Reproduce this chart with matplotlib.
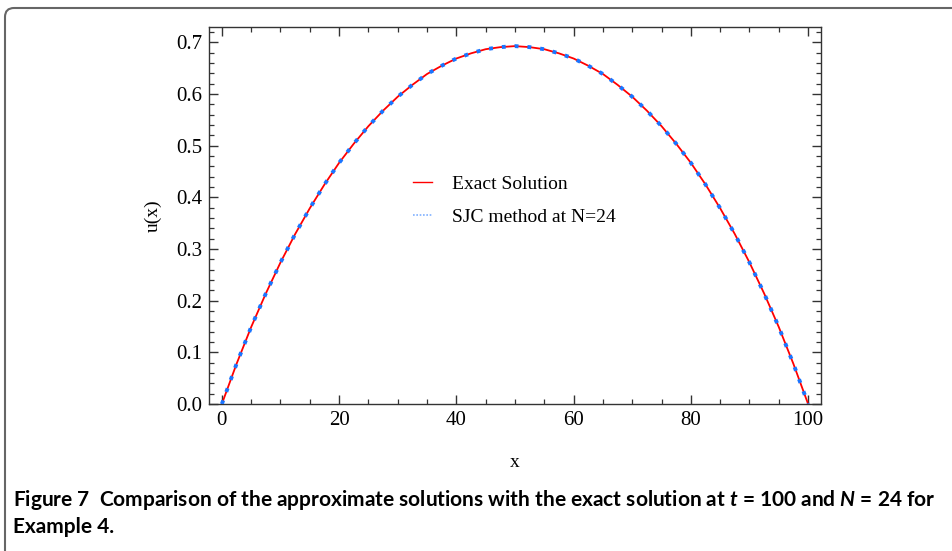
import numpy as np
import matplotlib
matplotlib.use("Agg")
import matplotlib.pyplot as plt
from matplotlib.lines import Line2D
from matplotlib.patches import FancyBboxPatch
from matplotlib.ticker import MultipleLocator

# === Data ===
x_vals = [0, 2.5, 5, 7.5, 10, 12.5, 15, 17.5, 20, 22.5, 25, 27.5, 30, 32.5, 35,
          37.5, 40, 42.5, 45, 47.5, 50, 52.5, 55, 57.5, 60, 62.5, 65, 67.5, 70,
          72.5, 75, 77.5, 80, 82.5, 85, 87.5, 90, 92.5, 95, 97.5, 100]
u_exact = [0.0, 0.0775, 0.149, 0.214, 0.274, 0.329, 0.379, 0.425, 0.467, 0.504,
           0.538, 0.568, 0.595, 0.618, 0.639, 0.655, 0.669, 0.679, 0.687, 0.691,
           0.693, 0.691, 0.687, 0.679, 0.669, 0.655, 0.639, 0.618, 0.595, 0.568,
           0.538, 0.504, 0.467, 0.425, 0.379, 0.329, 0.274, 0.214, 0.149, 0.0775, 0.0]
u_sjc = [0.0, 0.0775, 0.149, 0.214, 0.274, 0.329, 0.379, 0.425, 0.467, 0.504,
         0.538, 0.568, 0.595, 0.618, 0.639, 0.655, 0.669, 0.679, 0.687, 0.691,
         0.693, 0.691, 0.687, 0.679, 0.669, 0.655, 0.639, 0.618, 0.595, 0.568,
         0.538, 0.504, 0.467, 0.425, 0.379, 0.329, 0.274, 0.214, 0.149, 0.0775, 0.0]

labels = ["Exact Solution", "SJC method at N=24"]
caption_1 = "Figure 7  Comparison of the approximate solutions with the exact solution at $t$ = 100 and $N$ = 24 for"
caption_2 = "Example 4."

serif = "Liberation Serif"
plt.rcParams["mathtext.fontset"] = "custom"
plt.rcParams["mathtext.it"] = "Lato:italic:bold"
plt.rcParams["mathtext.rm"] = "Lato:bold"

fig = plt.figure(figsize=(9.52, 5.51), dpi=100)
ax = fig.add_axes([0.2195, 0.2668, 0.6429, 0.6842])

ax.plot(x_vals, u_exact, color="#ff0000", lw=1.3, zorder=2)
ax.plot(x_vals, u_sjc, color="#1a75ff", lw=2.8, linestyle=(0, (1.0, 2.3)),
        dash_capstyle="butt", zorder=3)

ax.set_xlim(-2.2, 102.2)
ax.set_ylim(0, 0.73)
ax.xaxis.set_major_locator(MultipleLocator(20))
ax.xaxis.set_minor_locator(MultipleLocator(5))
ax.yaxis.set_major_locator(MultipleLocator(0.1))
ax.yaxis.set_minor_locator(MultipleLocator(0.02))
ax.yaxis.set_major_formatter(matplotlib.ticker.FormatStrFormatter("%.1f"))

ax.tick_params(which="both", direction="in", top=True, right=True, color="#333333")
ax.tick_params(which="major", length=6.5, width=1.0, labelsize=15, pad=5)
ax.tick_params(which="minor", length=3.5, width=0.9)
for lab in ax.get_xticklabels() + ax.get_yticklabels():
    lab.set_fontfamily(serif)
for sp in ax.spines.values():
    sp.set_color("#333333")
    sp.set_linewidth(1.0)

ax.set_xlabel("x", fontfamily=serif, fontsize=14, labelpad=17)
ax.set_ylabel("u(x)", fontfamily=serif, fontsize=14, labelpad=10)

handles = [Line2D([], [], color="#ff0000", lw=1.0),
           Line2D([], [], color="#7fb0ff", lw=1.2, linestyle=(0, (1, 1)))]
ax.legend(handles, labels, loc="upper left", bbox_to_anchor=(0.317, 0.632),
          frameon=False, prop={"family": serif, "size": 14},
          handlelength=1.0, handletextpad=1.0, labelspacing=0.8, borderpad=0)

# rounded frame around the figure panel
frame = FancyBboxPatch((0.05, -1.0), 12, 6.43, boxstyle="round,pad=0,rounding_size=0.09",
                       transform=fig.dpi_scale_trans, facecolor="none",
                       edgecolor="#666666", lw=1.5)
fig.patches.append(frame)

fig.text(13 / 952, 1 - 506 / 551, caption_1, fontfamily="Lato", fontweight="bold",
         fontsize=15, va="baseline", ha="left")
fig.text(13 / 952, 1 - 533 / 551, caption_2, fontfamily="Lato", fontweight="bold",
         fontsize=15, va="baseline", ha="left")

fig.savefig("out.png", dpi=100)
